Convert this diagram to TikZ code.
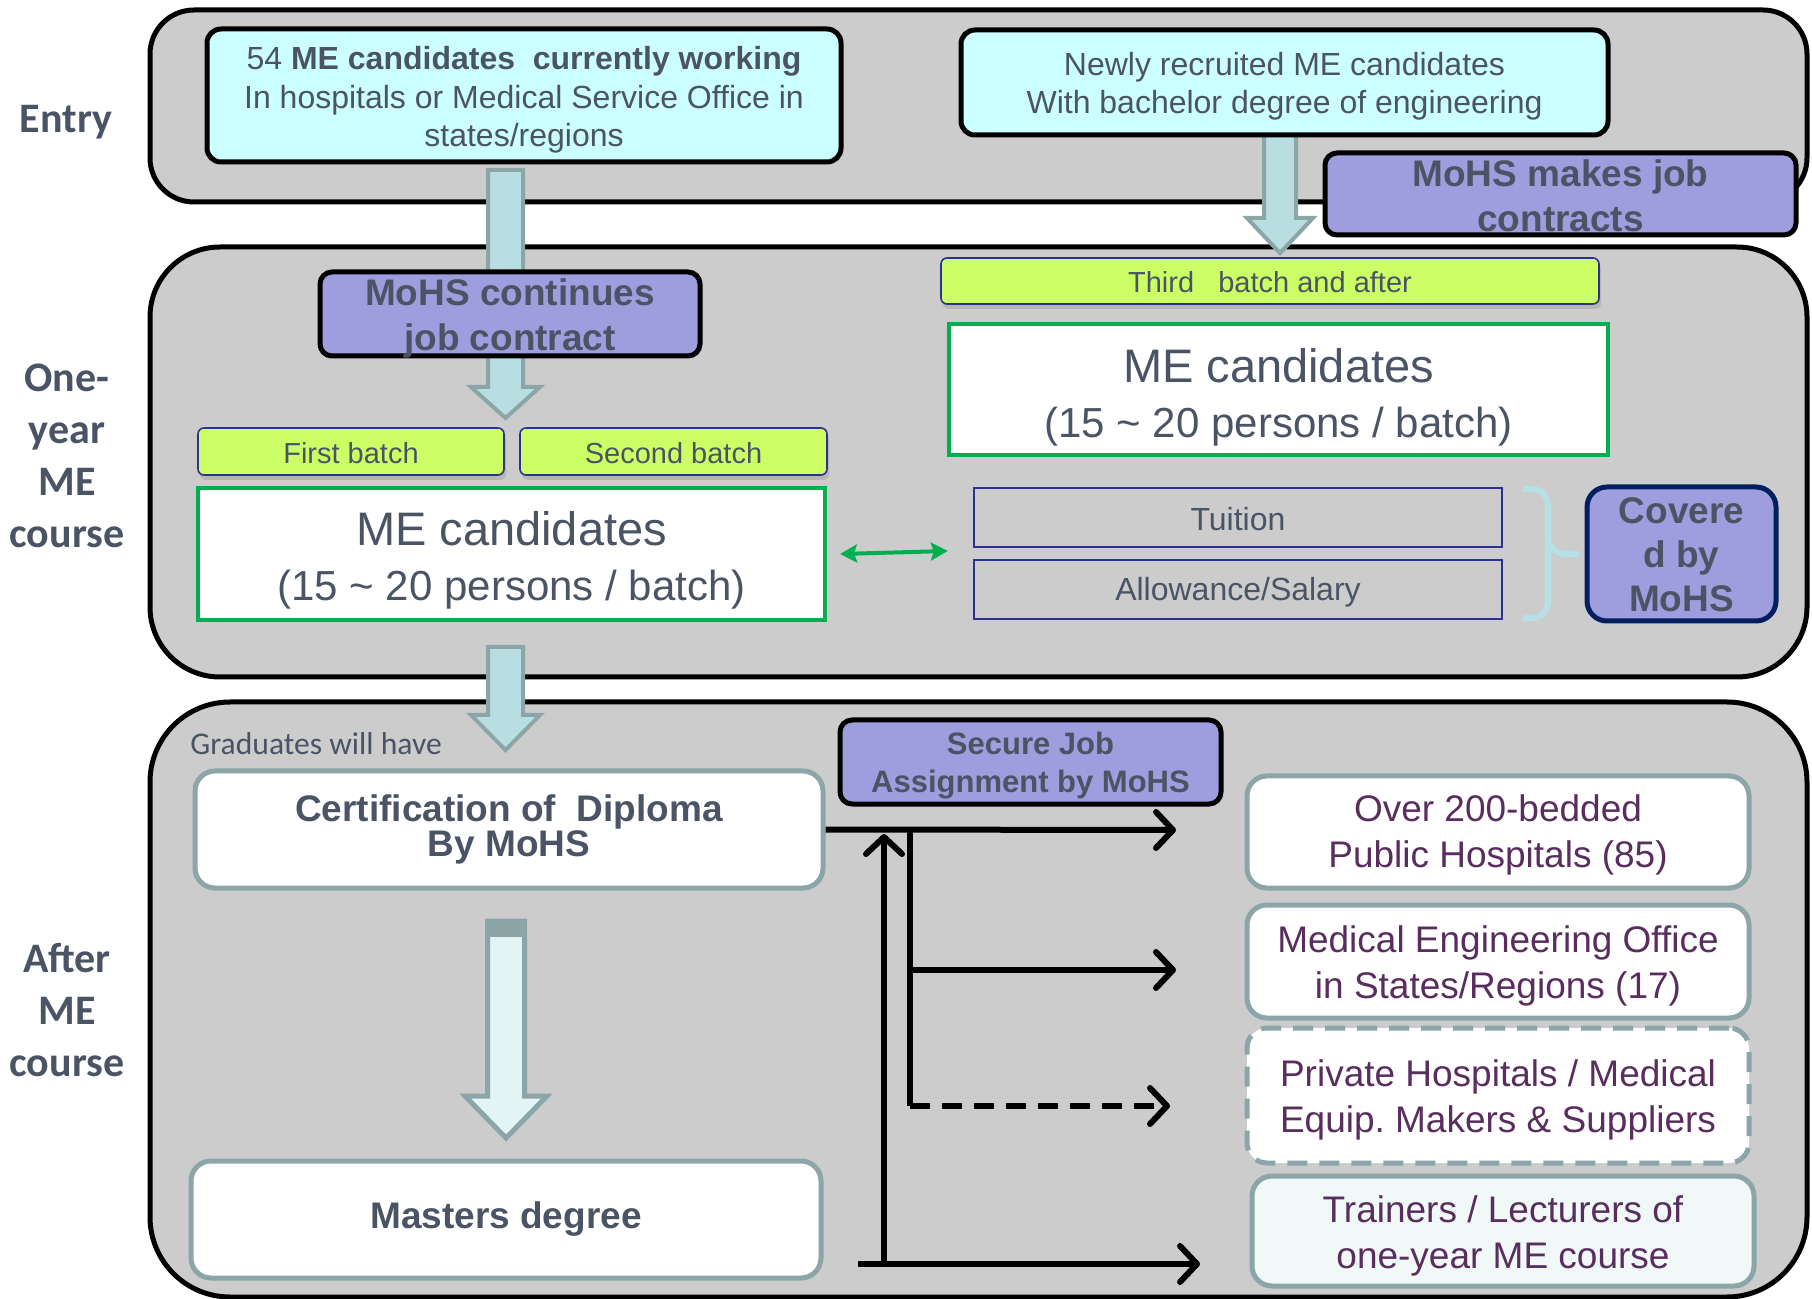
\documentclass[tikz,border=0pt]{standalone}
\usepackage{fontspec}
\setmainfont{Liberation Sans}
\newfontfamily\calfont{Carlito}
\usetikzlibrary{arrows.meta,shadows,calc}
\frenchspacing
\definecolor{panelgray}{RGB}{204,204,204}
\definecolor{lcyan}{RGB}{204,255,255}
\definecolor{lav}{RGB}{158,158,222}
\definecolor{ygreen}{RGB}{204,255,102}
\definecolor{arrfill}{RGB}{185,222,226}
\definecolor{arrline}{RGB}{140,166,168}
\definecolor{tealb}{RGB}{139,165,168}
\definecolor{txt}{RGB}{74,84,101}
\definecolor{purp}{RGB}{89,45,94}
\definecolor{grn}{RGB}{0,176,80}
\definecolor{navyb}{RGB}{0,32,96}
\definecolor{dblue}{RGB}{46,49,146}
\definecolor{bracec}{RGB}{183,224,230}
\definecolor{palearr}{RGB}{227,244,244}
\definecolor{paleR}{RGB}{240,248,248}
\newcommand\blockarrow[6]{%
  \path[#6] let \p1=(#1), \p2=(#2) in
    (\x1-#3,\y1) -- (\x1+#3,\y1) -- (\x1+#3,\y2+#5) -- (\x1+#4,\y2+#5) --
    (\x1,\y2) -- (\x1-#4,\y2+#5) -- (\x1-#3,\y2+#5) -- cycle;}
\begin{document}
\begin{tikzpicture}[x=0.5pt,y=-0.5pt,
  panel/.style={draw=black, line width=2.5pt, fill=panelgray},
  rowlabel/.style={text=txt, font=\calfont\bfseries\fontsize{21}{26}\selectfont, align=center, inner sep=0pt},
  tx/.style={inner sep=0pt, align=center, text=txt},
  cyanbox/.style={draw=black, line width=2.5pt, fill=lcyan, rounded corners=7pt, inner sep=0pt},
  cyantext/.style={tx, font=\fontsize{16}{19.25}\selectfont},
  mohs/.style={draw=black, line width=2.5pt, fill=lav, rounded corners=6pt, inner sep=0pt},
  mohstext/.style={tx, font=\bfseries\fontsize{18.5}{22.5}\selectfont},
  batch/.style={draw=dblue, line width=0.8pt, fill=ygreen, rounded corners=3pt, inner sep=0pt, drop shadow={opacity=0.3, shadow xshift=1pt, shadow yshift=-2.5pt}},
  batchtext/.style={tx, font=\fontsize{14.5}{17}\selectfont},
  mebox/.style={draw=grn, line width=2pt, fill=white, inner sep=0pt},
  metext/.style={tx, font=\fontsize{21}{27.5}\selectfont},
  costbox/.style={draw=dblue, line width=1.2pt, inner sep=0pt},
  costtext/.style={tx, font=\fontsize{16}{19}\selectfont},
  whitebox/.style={draw=tealb, line width=2.5pt, fill=white, rounded corners=10pt, inner sep=0pt},
  destbox/.style={whitebox, minimum width=251pt},
  desttext/.style={tx, text=purp, font=\fontsize{18.5}{23}\selectfont},
  blockarr/.style={draw=arrline, line width=2pt, fill=arrfill, line join=miter},
  conn/.style={line width=3pt, -{Straight Barb[length=8.5pt,width=18pt,round]}},
]
\useasboundingbox (0,0) rectangle (1812,1299);

% panels
\draw[panel, rounded corners=22pt] (150,10) rectangle (1807,202);
\draw[panel, rounded corners=35pt] (150,247) rectangle (1807,677);
\draw[panel, rounded corners=40pt] (150,702) rectangle (1807,1297);

% row labels
\node[rowlabel] (lentry) at (66,122.5) {Entry};
\node[rowlabel] (lone) at (67,456) {One-\\year\\ME\\course};
\node[rowlabel] (lafter) at (67,1010) {After\\ME\\course};

% block arrows
\coordinate (a1s) at (505.5,170); \coordinate (a1t) at (505.5,418);
\coordinate (a2s) at (1280,135);  \coordinate (a2t) at (1280,253);
\coordinate (a3s) at (505.5,647); \coordinate (a3t) at (505.5,750);
\blockarrow{a1s}{a1t}{8.75pt}{17.25pt}{15.5pt}{blockarr}
\blockarrow{a2s}{a2t}{8pt}{16.5pt}{17.5pt}{blockarr}
\blockarrow{a3s}{a3t}{8.75pt}{17.25pt}{17.5pt}{blockarr}

% entry boxes
\node[cyanbox, minimum width=317pt, minimum height=66.5pt] (boxA) at (524,95.5) {};
\node[cyantext] (boxAt) at ([yshift=-2.3pt]boxA.center)
  {54 \textbf{ME candidates\ \ currently working}\\In hospitals or Medical Service Office in\\states/regions};
\node[cyanbox, minimum width=323.5pt, minimum height=52.5pt] (boxB) at (1284.5,82.5) {};
\node[cyantext] (boxBt) at ([yshift=-1.8pt]boxB.center)
  {Newly recruited ME candidates\\With bachelor degree of engineering};
\node[mohs, minimum width=235.5pt, minimum height=41pt] (mohsA) at (1560.5,194) {};
\node[mohstext] (mohsAt) at ([yshift=-1pt]mohsA.center) {MoHS makes job\\contracts};
\node[mohs, minimum width=190pt, minimum height=42pt] (mohsB) at (510,314) {};
\node[mohstext] (mohsBt) at ([yshift=-2pt]mohsB.center) {MoHS continues\\job contract};

% one-year course
\node[batch, minimum width=329pt, minimum height=23pt] (third) at (1270,281) {};
\node[batchtext] (thirdt) at ([yshift=-0.5pt]third.center) {Third\ \ \ batch and after};
\node[mebox, minimum width=329.5pt, minimum height=65.5pt] (meR) at (1278.5,389.5) {};
\node[metext] (meRt) at ([yshift=-3.7pt]meR.center)
  {{\fontsize{23.5}{27.5}\selectfont ME candidates}\\(15 \textasciitilde{} 20 persons / batch)};
\node[batch, minimum width=153pt, minimum height=23.5pt] (first) at (351,451.5) {};
\node[batchtext] (firstt) at ([yshift=-1pt]first.center) {First batch};
\node[batch, minimum width=153.5pt, minimum height=23.5pt] (second) at (673.5,451.5) {};
\node[batchtext] (secondt) at ([yshift=-1pt]second.center) {Second batch};
\node[mebox, minimum width=313.5pt, minimum height=66pt] (meL) at (511.5,554) {};
\node[metext] (meLt) at ([yshift=-3.2pt]meL.center)
  {{\fontsize{23.5}{27.5}\selectfont ME candidates}\\(15 \textasciitilde{} 20 persons / batch)};
\node[costbox, minimum width=264pt, minimum height=29.5pt] (tuition) at (1238,517.5) {};
\node[costtext] (tuitiont) at ([yshift=-0.7pt]tuition.center) {Tuition};
\node[costbox, minimum width=264pt, minimum height=29.5pt] (allow) at (1238,589.5) {};
\node[costtext] (allowt) at ([yshift=-1.5pt]allow.center) {Allowance/Salary};
\draw[bracec, line width=3pt, rounded corners=8pt] (1523,489) -- (1548,489) -- (1548,618) -- (1523,618);
\draw[bracec, line width=3pt, rounded corners=6pt] (1548,540) -- (1552,554) -- (1579,554);
\node[mohs, draw=navyb, rounded corners=10pt, minimum width=94.5pt, minimum height=67pt] (covered) at (1681.5,554) {};
\node[tx, font=\bfseries\fontsize{18.5}{22}\selectfont] (coveredt) at ([yshift=-0.5pt]covered.center) {Covere\\d by\\MoHS};
\draw[grn, line width=2pt, {Stealth[length=8.5pt,width=9pt,inset=1.5pt]}-{Stealth[length=8.5pt,width=9pt,inset=1.5pt]}]
  ([xshift=6.5pt]meL.east) -- ([xshift=-12.5pt,yshift=1.5pt]meL.east -| tuition.west);

% after course
\node[anchor=west, text=txt, font=\calfont\fontsize{15.8}{18}\selectfont, inner sep=0pt] (grad) at (190,744) {Graduates will have};
\node[whitebox, minimum width=314pt, minimum height=58.5pt] (cert) at (509,829.5) {};
\node[tx, font=\bfseries\fontsize{18.5}{16.5}\selectfont] (certt) at (cert.center)
  {Certification of\ \ Diploma\\By MoHS};
\node[whitebox, minimum width=315pt, minimum height=58.5pt] (masters) at (506,1219.5) {};
\node[tx, font=\bfseries\fontsize{18.5}{22}\selectfont] (masterst) at (masters.center) {Masters degree};
\coordinate (h1s) at (506,921); \coordinate (h1t) at (506,1138);
\blockarrow{h1s}{h1t}{9.25pt}{20.5pt}{21pt}{draw=tealb, line width=2.5pt, fill=palearr}
\fill[tealb] (487,921) rectangle (525,937);
\node[mohs, minimum width=190.5pt, minimum height=42pt] (secure) at (1030.5,762) {};
\node[tx, font=\bfseries\fontsize{15.5}{19}\selectfont] (securet) at ([yshift=-2pt]secure.center) {Secure Job\\Assignment by MoHS};

\node[destbox, minimum height=56pt] (R1) at (1498,832) {};
\node[desttext] (R1t) at ([yshift=-1.5pt]R1.center) {Over 200-bedded\\Public Hospitals (85)};
\node[destbox, minimum height=56.5pt] (R2) at (1498,961.5) {};
\node[desttext] (R2t) at ([yshift=-2pt]R2.center) {Medical Engineering Office\\in States/Regions (17)};
\node[destbox, minimum height=67.5pt, dash pattern=on 10pt off 6pt] (R3) at (1498,1095.5) {};
\node[desttext] (R3t) at ([yshift=-2pt]R3.center) {Private Hospitals / Medical\\Equip. Makers \& Suppliers};
\node[destbox, minimum height=55pt, fill=paleR] (R4) at (1503,1231) {};
\node[desttext] (R4t) at ([yshift=-2.3pt]R4.center) {Trainers / Lecturers of\\one-year ME course};

% connectors
\coordinate (t1) at (1176,830);
\coordinate (v1top) at (910,830);
\coordinate (v1bot) at (910,1106);
\coordinate (t2) at (1176,970);
\coordinate (t3) at (1170,1106);
\coordinate (bstart) at (858,1264);
\coordinate (t4) at (1200,1264);
\coordinate (v2bot) at (884,1264);
\coordinate (t5) at (884,834);
\draw[conn] (cert.east) -- (t1);
\draw[line width=3pt] (v1top) -- (v1bot);
\draw[conn] (v1top |- t2) -- (t2);
\draw[conn, dash pattern=on 10pt off 6pt] (v1bot) -- (t3);
\draw[conn] (bstart) -- (t4);
\draw[conn] (v2bot) -- (t5);
\end{tikzpicture}
\end{document}
